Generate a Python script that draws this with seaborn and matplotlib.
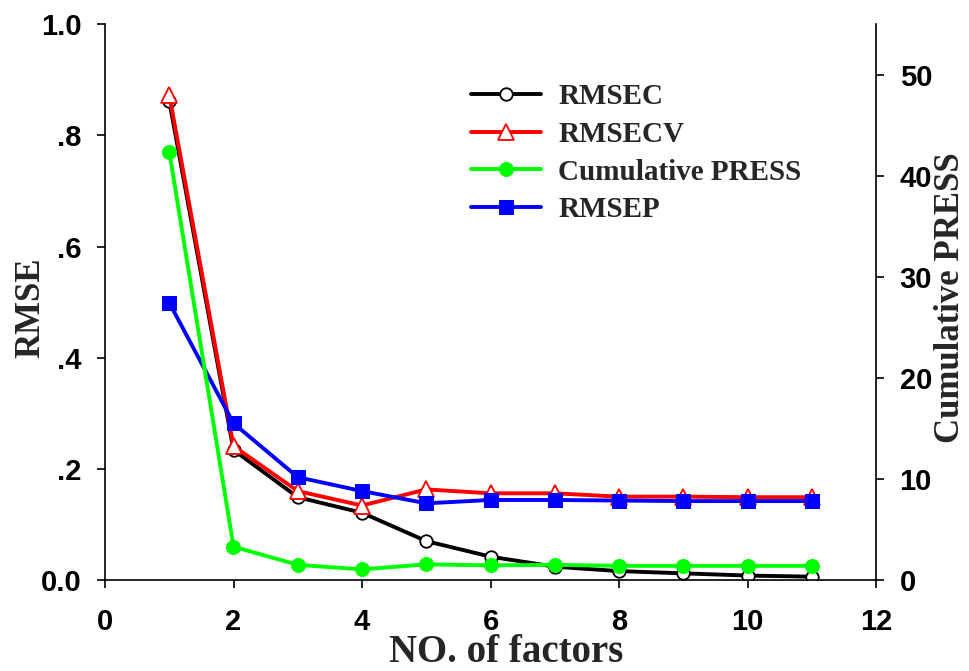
import matplotlib
matplotlib.use("Agg")
import matplotlib.pyplot as plt
import seaborn as sns
import numpy as np
from matplotlib.ticker import FixedLocator, FixedFormatter

factors = [1, 2, 3, 4, 5, 6, 7, 8, 9, 10, 11]
rmsec = [0.862, 0.234, 0.149, 0.121, 0.070, 0.042, 0.024, 0.016, 0.012, 0.008, 0.006]
rmsecv = [0.873, 0.241, 0.160, 0.134, 0.163, 0.156, 0.156, 0.150, 0.150, 0.149, 0.149]
rmsep = [0.499, 0.282, 0.185, 0.160, 0.138, 0.144, 0.144, 0.143, 0.142, 0.142, 0.142]
cum_press = [42.4, 3.3, 1.5, 1.05, 1.55, 1.45, 1.5, 1.4, 1.4, 1.4, 1.4]

left_ticks = [0.0, 0.2, 0.4, 0.6, 0.8, 1.0]
left_ticklabels = ["0.0", ".2", ".4", ".6", ".8", "1.0"]
right_ticks = [0, 10, 20, 30, 40, 50]
x_ticks = [0, 2, 4, 6, 8, 10, 12]

sns.set_style("ticks")
plt.rcParams["font.family"] = ["Liberation Sans", "DejaVu Sans"]

fig = plt.figure(figsize=(9.69, 6.71), dpi=100)
ax = fig.add_axes([105/969, 91/671, 771/969, 555.7/671])
ax2 = ax.twinx()

lw = 2.8
sns.lineplot(x=factors, y=rmsec, ax=ax, color="black", marker="o", markersize=9,
             markerfacecolor="white", markeredgecolor="black", markeredgewidth=1.3,
             linewidth=lw, label="RMSEC", legend=False)
sns.lineplot(x=factors, y=rmsecv, ax=ax, color="#ff0000", marker="^", markersize=12,
             markerfacecolor="white", markeredgecolor="#ff0000", markeredgewidth=1.3,
             linewidth=lw, label="RMSECV", legend=False)
sns.lineplot(x=factors, y=rmsep, ax=ax, color="#0000ff", marker="s", markersize=10,
             markerfacecolor="#0000ff", markeredgecolor="#0000ff",
             linewidth=lw, label="RMSEP", legend=False)
sns.lineplot(x=factors, y=cum_press, ax=ax2, color="#00ff00", marker="o", markersize=10,
             markerfacecolor="#00ff00", markeredgecolor="#00ff00",
             linewidth=lw, label="Cumulative PRESS", legend=False)

ax.set_xlim(0, 12)
ax.set_ylim(0, 1.0)
ax2.set_ylim(0, 55)
ax.xaxis.set_major_locator(FixedLocator(x_ticks))
ax.yaxis.set_major_locator(FixedLocator(left_ticks))
ax.yaxis.set_major_formatter(FixedFormatter(left_ticklabels))
ax2.yaxis.set_major_locator(FixedLocator(right_ticks))

for a in (ax, ax2):
    a.spines["top"].set_visible(False)
    for s in a.spines.values():
        s.set_linewidth(1.2)
        s.set_color("black")
ax.spines["right"].set_visible(False)
ax2.spines["left"].set_visible(False)
ax2.spines["bottom"].set_visible(False)
ax2.spines["right"].set_visible(True)

ax.tick_params(axis="y", direction="out", length=6, width=1.2, pad=11, colors="black")
ax.tick_params(axis="x", direction="out", length=6, width=1.2, pad=14, colors="black")
ax2.tick_params(axis="y", direction="out", length=6, width=1.2, pad=11, colors="black")
for lab in ax.get_xticklabels() + ax.get_yticklabels() + ax2.get_yticklabels():
    lab.set_fontsize(21)
    lab.set_fontweight("bold")

serif = ["Liberation Serif", "DejaVu Serif"]
ax.set_xlabel("NO. of factors", fontsize=28, fontweight="bold", family=serif)
ax.set_ylabel("RMSE", fontsize=25, fontweight="bold", family=serif)
ax2.set_ylabel("Cumulative PRESS", fontsize=25, fontweight="bold", family=serif)
ax.xaxis.set_label_coords(0.5208, -0.0966)
ax.yaxis.set_label_coords(-0.0746, 0.49)
ax2.yaxis.set_label_coords(1.0755, 0.508)

h1, l1 = ax.get_legend_handles_labels()
h2, l2 = ax2.get_legend_handles_labels()
handles = {l: h for h, l in zip(h1 + h2, l1 + l2)}
order = ["RMSEC", "RMSECV", "Cumulative PRESS", "RMSEP"]
leg = ax2.legend([handles[k] for k in order], order, loc="upper left",
                 bbox_to_anchor=(471/969, 1 - 83/671), bbox_transform=fig.transFigure,
                 frameon=False, borderpad=0, borderaxespad=0, handlelength=2.4,
                 handletextpad=0.6, labelspacing=0.37,
                 prop=dict(size=21, weight="bold", family=serif))

fig.savefig("out.png", dpi=100, facecolor="white")
